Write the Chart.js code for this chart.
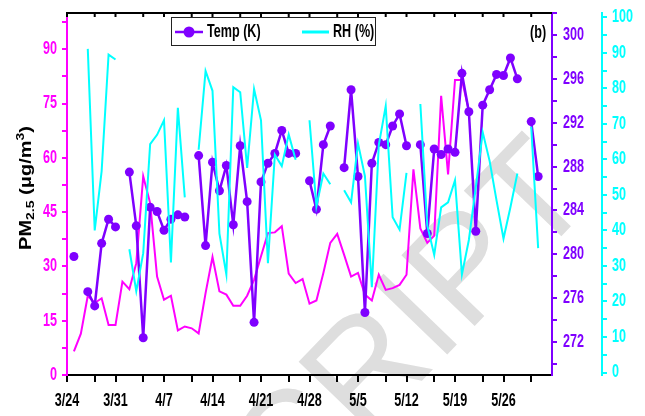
<!DOCTYPE html>
<html lang="en">
<head>
  <meta charset="UTF-8">
  <title>PM2.5, Temp, RH</title>
  <script src="https://cdn.jsdelivr.net/npm/chart.js"></script>
  <style>
    body { margin: 0; padding: 0; background: #ffffff; }
    .wrap { width: 645px; height: 416px; position: relative; }
  </style>
</head>
<body>
  <div class="wrap"><canvas id="grafico"></canvas></div>

  <script>
    // x = days since 3/24
    const xTicks = [0, 4, 7, 11, 14, 18, 21, 25, 28, 32, 35, 39, 42, 46, 49, 53, 56, 60, 63, 67];
    const xLabels = ['3/24', '', '3/31', '', '4/7', '', '4/14', '', '4/21', '', '4/28', '', '5/5', '', '5/12', '', '5/19', '', '5/26', ''];
    const pmTicks = [0, 7.5, 15, 22.5, 30, 37.5, 45, 52.5, 60, 67.5, 75, 82.5, 90, 97.5];
    const pmLabels = ['0', '', '15', '', '30', '', '45', '', '60', '', '75', '', '90', ''];
    const tempTicks = [270, 272, 274, 276, 278, 280, 282, 284, 286, 288, 290, 292, 294, 296, 298, 300, 302];
    const tempLabels = ['', '272', '', '276', '', '280', '', '284', '', '288', '', '292', '', '296', '', '300', ''];
    const rhTicks = [0, 5, 10, 15, 20, 25, 30, 35, 40, 45, 50, 55, 60, 65, 70, 75, 80, 85, 90, 95, 100];
    const rhLabels = ['0', '', '10', '', '20', '', '30', '', '40', '', '50', '', '60', '', '70', '', '80', '', '90', '', '100'];

    // one value per day from 3/24, null = no data
    const pm25 = [null, 6.5, 11.4, 21.9, 19.9, 21.2, 13.8, 13.8, 25.8, 23.7,
      30.9, 54.9, 47.5, 27.2, 20.8, 21.9, 12.3, 13.4, 12.9, 11.5,
      22.6, 32.6, 23.1, 22.2, 19.1, 19.1, 21.9, 26.3, 32.8, 39.2,
      39.4, 41.1, 28.0, 25.4, 26.5, 19.7, 20.6, 28.2, 36.5, 39.0,
      33.2, 27.2, 28.2, 22.2, 20.6, 27.7, 23.5, 24.0, 24.9, 27.7,
      56.8, 40.5, 36.5, 38.5, 77.1, 55.4, 81.5, 81.5, 73.0];
    const tempK = [null, 279.8, null, 276.6, 275.3, 281.0, 283.2, 282.5, null, 287.5,
      282.6, 272.4, 284.3, 283.9, 282.2, 283.2, 283.6, 283.4, null, 289.0,
      280.8, 288.4, 285.8, 288.1, 282.7, 289.9, 284.8, 273.8, 286.6, 288.3,
      289.2, 291.3, 289.2, 289.2, null, 286.7, 284.1, 290.0, 291.7, null,
      287.9, 295.0, 287.1, 274.7, 288.3, 290.2, 290.0, 291.7, 292.8, 289.9,
      null, 290.0, 281.9, 289.6, 289.1, 289.6, 289.3, 296.5, 293.0, 282.1,
      293.6, 295.0, 296.4, 296.3, 297.9, 296.0, null, 292.1, 287.1];
    const rh = [null, null, null, 91.1, 40.0, 56.7, 89.5, 88.1, null, 34.7,
      22.9, 33.6, 64.3, 66.9, 71.0, 31.0, 74.5, 49.3, null, 62.7,
      84.9, 79.3, 39.1, 27.6, 80.3, 78.9, 57.6, 79.8, 71.0, 30.8,
      61.3, 58.1, 67.0, 59.9, null, 71.0, 46.8, 56.0, 53.0, null,
      51.3, 47.9, 64.5, 55.3, 24.0, 64.0, 75.0, 43.7, 40.2, 56.2,
      null, 75.6, 41.4, 33.1, 46.5, 47.9, 54.1, 27.6, 37.3, 52.1,
      67.6, 59.5, 48.4, 37.7, 46.5, 56.0, null, 69.2, 35.0];

    const cores = {
      pm: '#ff00ff',
      temp: '#7f00ff',
      rh: '#00ffff',
      eixo: '#000000'
    };
    const FONTE = '"Liberation Sans", Arial, sans-serif';

    const toXY = arr => arr.map((v, i) => ({ x: i, y: v }));

    // texto "apertado" na horizontal como no original
    function texto(ctx, str, x, y, size, color, align, sx) {
      ctx.save();
      ctx.font = 'bold ' + size + 'px ' + FONTE;
      ctx.fillStyle = color;
      ctx.textBaseline = 'middle';
      ctx.textAlign = 'left';
      const w = ctx.measureText(str).width * sx;
      let x0 = x;
      if (align === 'center') x0 = x - w / 2;
      if (align === 'right') x0 = x - w;
      ctx.translate(x0, y);
      ctx.scale(sx, 1);
      ctx.fillText(str, 0, 0);
      ctx.restore();
    }

    const fixTicks = vals => scale => { scale.ticks = vals.map(v => ({ value: v })); };

    const marcaDagua = {
      id: 'marcaDagua',
      beforeDraw(chart) {
        const ctx = chart.ctx;
        ctx.save();
        ctx.translate(414, 330);
        ctx.rotate(-46 * Math.PI / 180);
        ctx.font = '148px ' + FONTE;
        ctx.fillStyle = '#dedede';
        ctx.textAlign = 'center';
        ctx.textBaseline = 'middle';
        ctx.fillText('CRIPT', 0, 0);
        ctx.restore();
      }
    };

    const textos = {
      id: 'textos',
      afterDraw(chart) {
        const ctx = chart.ctx;
        const s = chart.scales;
        const area = chart.chartArea;

        // borda de cima com tracinhos
        ctx.save();
        ctx.strokeStyle = cores.eixo;
        ctx.lineWidth = 2;
        ctx.beginPath();
        ctx.moveTo(area.left - 1, area.top);
        ctx.lineTo(area.right, area.top);
        xTicks.forEach(v => {
          const px = s.x.getPixelForValue(v);
          ctx.moveTo(px, area.top);
          ctx.lineTo(px, area.top + 4);
        });
        ctx.stroke();
        ctx.restore();

        xTicks.forEach((v, i) => {
          if (xLabels[i]) texto(ctx, xLabels[i], s.x.getPixelForValue(v), 401, 18, cores.eixo, 'center', 0.7);
        });
        pmTicks.forEach((v, i) => {
          if (pmLabels[i]) texto(ctx, pmLabels[i], s.y.right - 10, s.y.getPixelForValue(v), 18, cores.pm, 'right', 0.7);
        });
        tempTicks.forEach((v, i) => {
          if (tempLabels[i]) texto(ctx, tempLabels[i], s.y1.left + 11, s.y1.getPixelForValue(v), 18, cores.temp, 'left', 0.7);
        });
        rhTicks.forEach((v, i) => {
          if (rhLabels[i]) texto(ctx, rhLabels[i], s.y2.left + 10, s.y2.getPixelForValue(v), 18, cores.rh, 'left', 0.7);
        });

        // titulo do eixo y
        ctx.save();
        ctx.translate(27, 188);
        ctx.rotate(-Math.PI / 2);
        ctx.scale(1, 0.8);
        ctx.fillStyle = cores.eixo;
        ctx.textBaseline = 'middle';
        const partes = [['PM', 20, 0], ['2.5', 14, 5], [' (\u03bcg/m', 20, 0], ['3', 14, -7], [')', 20, 0]];
        let total = 0;
        partes.forEach(p => { ctx.font = 'bold ' + p[1] + 'px ' + FONTE; total += ctx.measureText(p[0]).width; });
        let cx = -total / 2;
        partes.forEach(p => {
          ctx.font = 'bold ' + p[1] + 'px ' + FONTE;
          ctx.fillText(p[0], cx, p[2]);
          cx += ctx.measureText(p[0]).width;
        });
        ctx.restore();

        // legenda
        ctx.save();
        ctx.fillStyle = '#ffffff';
        ctx.fillRect(171, 17, 204, 28);
        ctx.strokeStyle = '#222';
        ctx.lineWidth = 1;
        ctx.strokeRect(171.5, 17.5, 204, 28);
        ctx.strokeStyle = cores.temp;
        ctx.lineWidth = 2.5;
        ctx.beginPath();
        ctx.moveTo(175, 32);
        ctx.lineTo(203, 32);
        ctx.stroke();
        ctx.fillStyle = cores.temp;
        ctx.beginPath();
        ctx.arc(189, 32, 5.5, 0, Math.PI * 2);
        ctx.fill();
        ctx.strokeStyle = cores.rh;
        ctx.lineWidth = 3;
        ctx.beginPath();
        ctx.moveTo(302, 32);
        ctx.lineTo(329, 32);
        ctx.stroke();
        ctx.restore();
        texto(ctx, 'Temp (K)', 207, 32, 18, cores.eixo, 'left', 0.7);
        texto(ctx, 'RH (%)', 333, 32, 18, cores.eixo, 'left', 0.7);
        texto(ctx, '(b)', 530, 33, 18, cores.eixo, 'left', 0.7);
      }
    };

    const eixoY = (cor, ticks) => ({
      ticks: { display: false },
      grid: { display: true, drawOnChartArea: false, drawTicks: true, tickLength: 5, color: cor, lineWidth: 2 },
      border: { display: true, color: cor, width: 2 },
      afterBuildTicks: fixTicks(ticks)
    });

    new Chart(document.getElementById('grafico'), {
      type: 'line',
      data: {
        datasets: [
          {
            label: 'RH (%)',
            data: toXY(rh),
            yAxisID: 'y2',
            borderColor: cores.rh,
            borderWidth: 2,
            pointRadius: 0,
            order: 0
          },
          {
            label: 'Temp (K)',
            data: toXY(tempK),
            yAxisID: 'y1',
            borderColor: cores.temp,
            backgroundColor: cores.temp,
            borderWidth: 2.5,
            pointRadius: 4.5,
            pointBorderWidth: 0,
            pointBackgroundColor: cores.temp,
            order: 1
          },
          {
            label: 'PM2.5',
            data: toXY(pm25),
            yAxisID: 'y',
            borderColor: cores.pm,
            borderWidth: 2,
            pointRadius: 0,
            order: 2
          }
        ]
      },
      options: {
        responsive: true,
        maintainAspectRatio: false,
        animation: false,
        events: [],
        spanGaps: false,
        elements: { line: { tension: 0 } },
        layout: { padding: { top: 13, left: 0, right: 0, bottom: 0 }, autoPadding: false },
        plugins: {
          legend: { display: false },
          tooltip: { enabled: false }
        },
        scales: {
          x: {
            type: 'linear',
            min: 0,
            max: 70,
            ticks: { display: false },
            grid: { display: true, drawOnChartArea: false, drawTicks: true, tickLength: 7, color: cores.eixo, lineWidth: 2 },
            border: { display: true, color: cores.eixo, width: 2 },
            afterBuildTicks: fixTicks(xTicks),
            afterFit: s => { s.height = 41; }
          },
          y: Object.assign(eixoY(cores.pm, pmTicks), {
            position: 'left', min: 0, max: 100,
            afterFit: s => { s.width = 67; }
          }),
          y1: Object.assign(eixoY(cores.temp, tempTicks), {
            position: 'right', min: 269, max: 302, weight: 0,
            afterFit: s => { s.width = 50; }
          }),
          y2: Object.assign(eixoY(cores.rh, rhTicks), {
            position: 'right', min: -0.7, max: 101.2, weight: 1,
            afterFit: s => { s.width = 43; }
          })
        }
      },
      plugins: [marcaDagua, textos]
    });
  </script>
</body>
</html>
